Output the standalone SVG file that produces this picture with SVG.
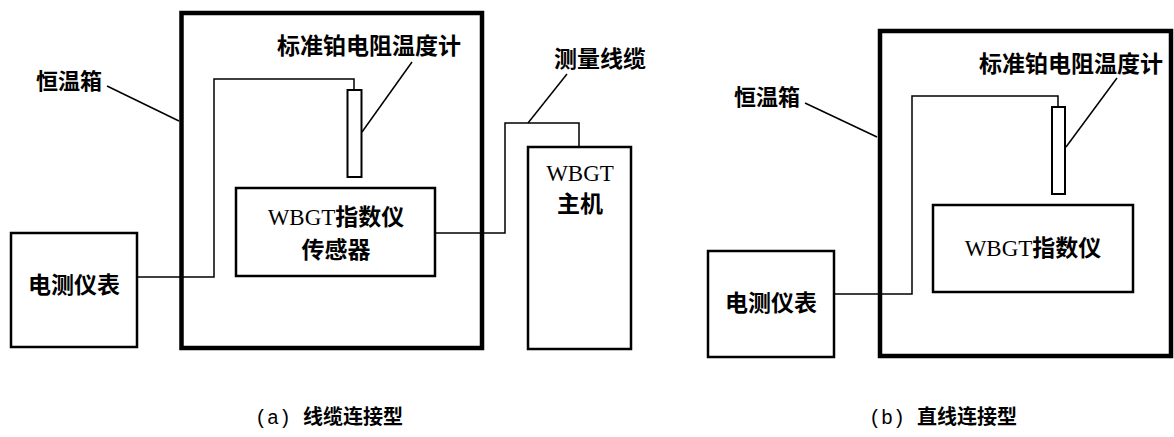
<svg xmlns="http://www.w3.org/2000/svg" width="1174" height="437" viewBox="0 0 1174 437">
<style>
.bg{fill:#fff}
.oven{fill:none;stroke:#000;stroke-width:4.5}
.box{fill:none;stroke:#000;stroke-width:2.5}
.probe{fill:#fff;stroke:#000;stroke-width:2}
.wire{fill:none;stroke:#000;stroke-width:1.5}
.lead{fill:none;stroke:#000;stroke-width:1.5}
.lbl{font-family:"Noto Sans CJK SC","Liberation Sans",sans-serif;font-weight:bold;font-size:22px;fill:#000;text-anchor:middle}
.in{font-family:"Liberation Serif","Noto Sans CJK SC",serif;font-size:23px;fill:#000;text-anchor:middle}
.cjk{font-family:"Noto Sans CJK SC",sans-serif;font-weight:bold}
.cap{font-family:"Liberation Mono","Noto Sans CJK SC",monospace;font-size:20px;fill:#000;text-anchor:middle}
</style>
<rect class="bg" x="0" y="0" width="1174" height="437"/>

<!-- (a) cable connection -->
<g id="oven-a">
  <rect class="oven" x="181.5" y="13" width="300.5" height="335"/>
  <text class="lbl" x="69" y="89">恒温箱</text>
</g>
<g id="meter-a">
  <rect class="box" x="11" y="233" width="126" height="114"/>
  <text class="lbl" x="74" y="293" style="font-size:23px">电测仪表</text>
</g>
<g id="probe-a">
  <rect class="probe" x="347.5" y="90" width="14" height="87"/>
  <text class="lbl" x="369" y="54" style="font-size:23px">标准铂电阻温度计</text>
</g>
<g id="sensor-a">
  <rect class="box" x="236" y="188" width="199" height="88"/>
  <text class="in" x="336" y="225">WBGT<tspan class="cjk">指数仪</tspan></text>
  <text class="in" x="336" y="258"><tspan class="cjk">传感器</tspan></text>
</g>
<g id="host-a">
  <rect class="box" x="528" y="147" width="103" height="202"/>
  <text class="in" x="580" y="181">WBGT</text>
  <text class="in" x="580" y="212"><tspan class="cjk">主机</tspan></text>
</g>
<g id="cable-label-a">
  <text class="lbl" x="600" y="67" style="font-size:23px">测量线缆</text>
</g>

<!-- (b) direct connection -->
<g id="oven-b">
  <rect class="oven" x="880" y="31" width="291" height="325"/>
  <text class="lbl" x="767" y="105">恒温箱</text>
</g>
<g id="probe-b">
  <rect class="probe" x="1052" y="107" width="13" height="87"/>
  <text class="lbl" x="1071" y="72" style="font-size:23px">标准铂电阻温度计</text>
</g>
<g id="wbgt-b">
  <rect class="box" x="933" y="205" width="200" height="87"/>
  <text class="in" x="1033" y="256">WBGT<tspan class="cjk">指数仪</tspan></text>
</g>
<g id="meter-b">
  <rect class="box" x="708" y="251" width="126" height="106"/>
  <text class="lbl" x="771" y="311" style="font-size:23px">电测仪表</text>
</g>

<g id="connectors">
  <path class="wire" d="M137 277 H214 V79 H354 V90"/>
  <path class="wire" d="M435 233 H505 V123 H579 V147"/>
  <path class="wire" d="M834 294 H912 V96 H1058 V107"/>
  <path class="lead" d="M107 86 L179 121"/>
  <path class="lead" d="M412 62 L362 132"/>
  <path class="lead" d="M567 74 L528 123"/>
  <path class="lead" d="M805 103 L877 137"/>
  <path class="lead" d="M1117 78 L1066 147"/>
</g>

<g id="captions">
  <text class="cap" x="329" y="424">(a) <tspan class="cjk">线缆连接型</tspan></text>
  <text class="cap" x="943" y="424">(b) <tspan class="cjk">直线连接型</tspan></text>
</g>
</svg>
